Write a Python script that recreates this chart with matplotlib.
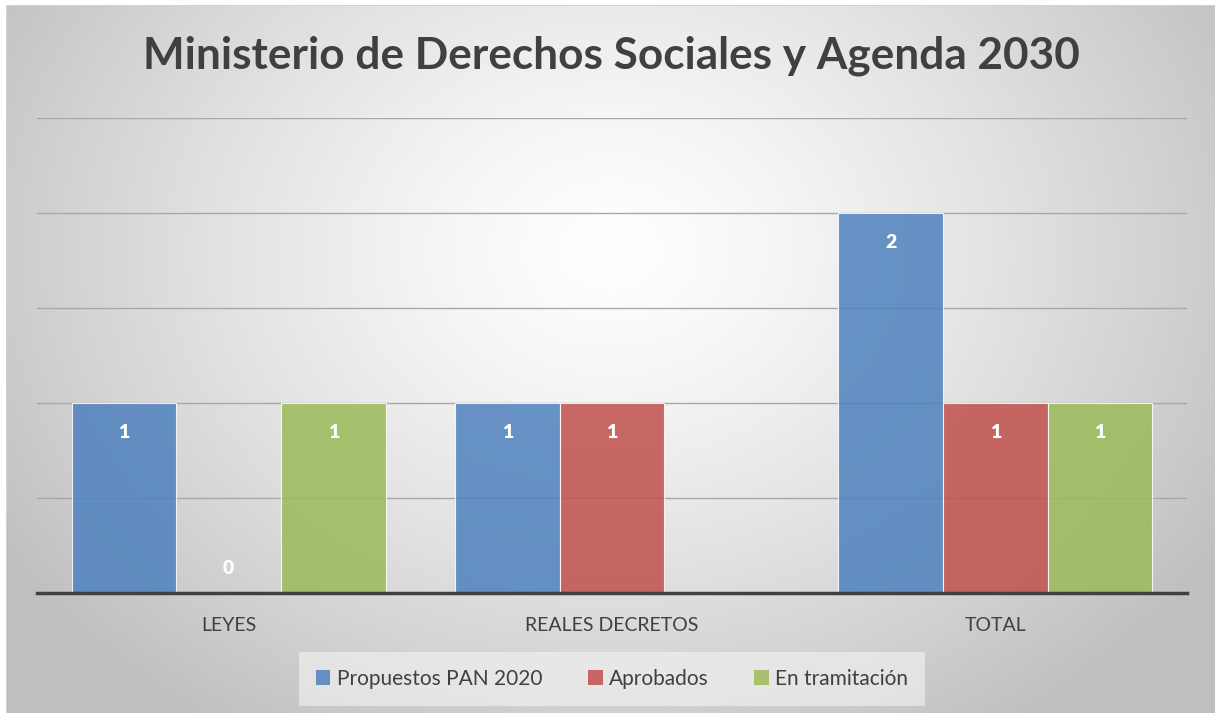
import matplotlib.pyplot as plt
import numpy as np

# datos del grafico
categorias = ['LEYES', 'REALES DECRETOS', 'TOTAL']
series = ['Propuestos PAN 2020', 'Aprobados', 'En tramitación']
propuestos = [1, 1, 2]
aprobados = [0, 1, 1]
tramitacion = [1, None, 1]
colores = ['#4F81BD', '#C0504D', '#9BBB59']

plt.rcParams['font.family'] = ['Lato', 'DejaVu Sans']

fig = plt.figure(figsize=(12.15, 7.13), dpi=100)

# fondo con degradado radial
bg = fig.add_axes([0, 0, 1, 1], zorder=-10)
W, H = 1215, 713
yy, xx = np.mgrid[0:H, 0:W]
d = np.sqrt((xx - 610) ** 2 + ((yy - 250) * 1.25) ** 2) / 720
d = np.clip(d, 0, 1)
g = 1.0 - 0.25 * d ** 1.3
img = np.dstack([g, g, g])
img[:5, :, :] = 1.0
img[:, :6, :] = 1.0
img[5, 6:, :] = 0.82
img[5:, 6, :] = 0.82
bg.imshow(img, extent=[0, 1, 0, 1], aspect='auto', origin='upper')
bg.axis('off')

ax = fig.add_axes([37 / W, 1 - 593 / H, 1150 / W, 475 / H])
ax.patch.set_alpha(0)

x = np.arange(len(categorias))
ancho = 0.273
datos = [propuestos, aprobados, tramitacion]
for i, (nombre, vals, col) in enumerate(zip(series, datos, colores)):
    pos = x + (i - 1) * ancho
    for p, v in zip(pos, vals):
        if v is None:
            continue
        ax.bar(p, v, width=ancho, color=col, alpha=0.85, edgecolor='white',
               linewidth=0.8, zorder=3)
        off = -29 if v > 0 else 25
        ax.annotate(str(v), (p, v), xytext=(0, off), textcoords='offset pixels',
                    ha='center', va='center', color='white', fontsize=14,
                    fontweight='heavy', zorder=5)
    ax.bar(0, 0, color=col, alpha=0.85, label=nombre)

ax.set_xlim(-0.5, 2.5)
ax.set_ylim(0, 2.5)
ax.set_yticks(np.arange(0, 2.51, 0.5))
ax.yaxis.grid(True, color='#a8a8a8', linewidth=1, zorder=0)
ax.tick_params(axis='y', left=False, labelleft=False)
ax.tick_params(axis='x', bottom=False, pad=14)
ax.set_xticks(x)
ax.set_xticklabels(categorias, fontsize=14, color='#404040')
for s in ['top', 'right', 'left']:
    ax.spines[s].set_visible(False)
ax.spines['bottom'].set_color('#404040')
ax.spines['bottom'].set_linewidth(2.5)
ax.spines['bottom'].set_zorder(6)

fig.text(611 / W, 1 - 56 / H, 'Ministerio de Derechos Sociales y Agenda 2030',
         ha='center', va='center', fontsize=31.8, fontweight='bold', color='#404040')

leg = fig.legend(loc='center', bbox_to_anchor=(612 / W, 1 - 679 / H), ncol=3,
                 fontsize=15, frameon=True, handlelength=0.7, handleheight=0.7,
                 handletextpad=0.3, columnspacing=2.2, borderpad=0.8)
leg.get_frame().set_facecolor('#f4f4f4')
leg.get_frame().set_alpha(0.6)
leg.get_frame().set_edgecolor('none')
leg.get_frame().set_boxstyle('square', pad=0)
for t in leg.get_texts():
    t.set_color('#404040')

fig.savefig('out.png', dpi=100)
